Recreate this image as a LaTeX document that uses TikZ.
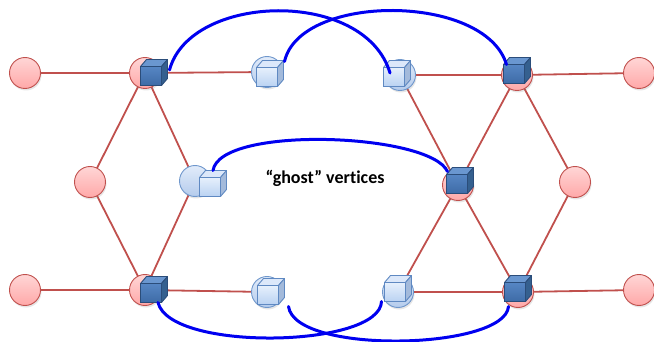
\documentclass[tikz,border=0pt]{standalone}
\usepackage{fontspec}
\setmainfont{Carlito}[Ligatures=NoCommon]
\usetikzlibrary{shadows}

\definecolor{edgecol}{HTML}{C0504D}
\definecolor{vtxline}{HTML}{C0504D}
\definecolor{vtxtop}{HTML}{FFD6D6}
\definecolor{vtxbot}{HTML}{FFA8A8}
\definecolor{gstline}{HTML}{6F97CC}
\definecolor{gsttop}{HTML}{E2ECFA}
\definecolor{gstbot}{HTML}{B4CBEC}
\definecolor{dkfronttop}{HTML}{5686C4}
\definecolor{dkfrontbot}{HTML}{3E6BA6}
\definecolor{dktop}{HTML}{6A97D0}
\definecolor{dkside}{HTML}{35608F}
\definecolor{dkline}{HTML}{2B4D7A}
\definecolor{ltfronttop}{HTML}{E6F0FC}
\definecolor{ltfrontbot}{HTML}{BAD2F2}
\definecolor{lttop}{HTML}{DCE8FA}
\definecolor{ltside}{HTML}{A3BADB}
\definecolor{ltline}{HTML}{5F89C2}
\definecolor{linkblue}{HTML}{0000F0}

\tikzset{
  vtx/.style={circle, minimum size=31pt, inner sep=0pt, draw=vtxline, line width=0.9pt,
    top color=vtxtop, bottom color=vtxbot,
    drop shadow={opacity=0.2, shadow xshift=1pt, shadow yshift=-2pt}},
  gvtx/.style={vtx, draw=gstline, top color=gsttop, bottom color=gstbot},
  edge/.style={draw=edgecol, line width=1.8pt},
  link/.style={draw=linkblue, line width=3pt, line cap=round},
  % a small box in perspective: front face is a named node
  pics/cube/.style n args={5}{code={
    \node[inner sep=0pt, outer sep=0pt, minimum width=21pt, minimum height=19pt,
      draw=#5, line width=0.9pt, top color=#1, bottom color=#2] (-face) {};
    \filldraw[draw=#5, line width=0.9pt, fill=#3, line join=round]
      (-face.north west) -- ++(6,-7) -- ++(21,0) -- (-face.north east) -- cycle;
    \filldraw[draw=#5, line width=0.9pt, fill=#4, line join=round]
      (-face.north east) -- ++(6,-7) -- ++(0,19) -- (-face.south east) -- cycle;
  }},
  pics/darkcube/.style={cube={dkfronttop}{dkfrontbot}{dktop}{dkside}{dkline}},
  pics/lightcube/.style={cube={ltfronttop}{ltfrontbot}{lttop}{ltside}{ltline}},
}

\begin{document}
\begin{tikzpicture}[x=1pt,y=-1pt]
\useasboundingbox (0,0) rectangle (654,342);

% vertex positions
\foreach \n/\p in {a1/{25,73},a2/{145,73},g1/{267,72},g2/{400,75},a5/{517,75},a6/{639,73},
                   m1/{90,182},g3/{195,181},m3/{458,185},m4/{575,182},
                   b1/{25,290},b2/{145,290},g4/{267,292},g5/{398,292},b5/{518,292},b6/{639,290}}
  \coordinate (\n) at (\p);

% lattice edges
\path[edge] (a1) -- (a2) (a2) -- (g1) (g2) -- (a5) (a5) -- (a6)
  (a2) -- (m1) (a2) -- (g3) (m1) -- (b2) (g3) -- (b2)
  (b1) -- (b2) (b2) -- (g4) (g5) -- (b5) (b5) -- (b6)
  (g2) -- (m3) (a5) -- (m3) (a5) -- (m4)
  (m3) -- (g5) (m3) -- (b5) (m4) -- (b5);

% vertex discs over the edges
\foreach \n/\s in {a1/vtx,a2/vtx,g1/gvtx,g2/gvtx,a5/vtx,a6/vtx,m1/vtx,g3/gvtx,m3/vtx,m4/vtx,b1/vtx,b2/vtx,g4/gvtx,g5/gvtx,b5/vtx,b6/vtx}
  \node[\s] (\n-disc) at (\n) {};

% cubes sitting on the vertices
\pic (dtl) at (151,76)  {darkcube};
\pic (ltl) at (267,77)  {lightcube};
\pic (ltr) at (394,77)  {lightcube};
\pic (dtr) at (514,74)  {darkcube};
\pic (lml) at (210,187) {lightcube};
\pic (dmr) at (457,184) {darkcube};
\pic (dbl) at (151,293) {darkcube};
\pic (lbl) at (268,295) {lightcube};
\pic (lbr) at (395,292) {lightcube};
\pic (dbr) at (515,292) {darkcube};

% links between owned vertices and their ghost copies
\draw[link] ([shift={(8,-6)}]dtl-face.east)
  .. controls (190,-7) and (365,-12) .. ([shift={(-4,-4)}]ltr-face.center);
\draw[link] ([shift={(7,-6)}]ltl-face.north east)
  .. controls (300,-7) and (485,-7) .. ([shift={(3,0)}]dtr-face.north west);
\draw[link] ([shift={(3,-7)}]lml-face.north)
  .. controls (220,125) and (430,133) .. ([shift={(1,-3)}]dmr-face.north west);
\draw[link] ([shift={(7,0)}]dbl-face.south)
  .. controls (170,352) and (380,348) .. ([shift={(-3,0)}]lbr-face.south west);
\draw[link] ([shift={(10,2)}]lbl-face.south east)
  .. controls (295,355) and (505,350) .. ([shift={(4,5)}]dbr-face.south west);

\node[font=\bfseries\fontsize{18}{21}\selectfont] (ghosttxt) at (325,178) {“ghost” vertices};
\end{tikzpicture}
\end{document}
